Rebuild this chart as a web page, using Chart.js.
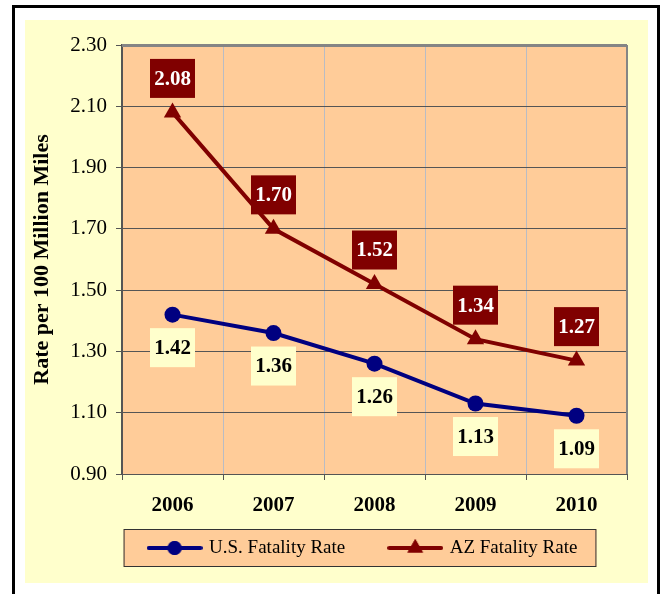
<!DOCTYPE html>
<html>
<head>
<meta charset="utf-8">
<script src="https://cdn.jsdelivr.net/npm/chart.js@4.4.1/dist/chart.umd.min.js"></script>
<style>
    html, body { margin: 0; padding: 0; background: #fff; }
    body { width: 665px; height: 594px; overflow: hidden; position: relative; }
    .frame { position: absolute; left: 12px; top: 5px; width: 642px; height: 640px; border: 3px solid #000; }
    .panel { position: absolute; left: 25px; top: 20px; width: 623px; height: 563px; background: #ffffcc; }
    #chart { position: absolute; left: 25px; top: 20px; }
</style>
</head>
<body>
<div class="frame"></div>
<div class="panel"></div>
<canvas id="chart" width="623" height="574"></canvas>
<script>
    // values
    const years = ['2006', '2007', '2008', '2009', '2010'];
    const usRate = [1.42, 1.36, 1.26, 1.13, 1.09];
    const azRate = [2.08, 1.70, 1.52, 1.34, 1.27];
    const yTicks = [0.90, 1.10, 1.30, 1.50, 1.70, 1.90, 2.10, 2.30];

    const SERIF = '"Liberation Serif", "Times New Roman", serif';
    const US_COLOR = '#000080';
    const AZ_COLOR = '#800000';

    Chart.defaults.font.family = SERIF;
    Chart.defaults.color = '#000';

    // legend sample: line with the marker in the middle
    function legendIcon(color, style) {
        const c = document.createElement('canvas');
        c.width = 56;
        c.height = 22;
        const g = c.getContext('2d');
        g.strokeStyle = color;
        g.fillStyle = color;
        g.lineWidth = 4;
        g.lineCap = 'round';
        g.beginPath();
        g.moveTo(2, 11);
        g.lineTo(54, 11);
        g.stroke();
        Chart.helpers.drawPoint(g, {pointStyle: style, radius: style === 'circle' ? 7 : 9, borderWidth: 0}, 28, 11);
        g.fill();
        return c;
    }

    const icons = [legendIcon(US_COLOR, 'circle'), legendIcon(AZ_COLOR, 'triangle')];

    const plotFrame = {
        id: 'plotFrame',
        // the legend sits a bit right of centre and closer to the axis than the default layout puts it
        afterLayout(chart) {
            const lg = chart.legend;
            lg.left += 37.5;
            lg.right += 37.5;
            lg.top -= 20.5;
            lg.bottom -= 20.5;
        },
        beforeDraw(chart) {
            const {ctx, chartArea: a} = chart;
            ctx.save();
            ctx.fillStyle = '#ffcc99';
            ctx.fillRect(a.left, a.top, a.right - a.left, a.bottom - a.top);

            // legend box
            const hb = chart.legend.legendHitBoxes;
            if (hb && hb.length) {
                const cy = hb[0].top + hb[0].height / 2;
                const left = hb[0].left - 26;
                const right = hb[hb.length - 1].left + hb[hb.length - 1].width + 19;
                ctx.fillStyle = '#ffcc99';
                ctx.fillRect(left, cy - 19, right - left, 38);
                ctx.strokeStyle = '#333';
                ctx.lineWidth = 1;
                ctx.strokeRect(left + 0.5, cy - 18.5, right - left - 1, 37);
            }
            ctx.restore();
        },
        beforeDatasetsDraw(chart) {
            const {ctx, chartArea: a} = chart;
            ctx.save();
            ctx.strokeStyle = '#858585';
            ctx.lineWidth = 3;
            ctx.beginPath();
            ctx.moveTo(a.left, a.top + 0.5);
            ctx.lineTo(a.right, a.top + 0.5);
            ctx.stroke();
            ctx.lineWidth = 2;
            ctx.beginPath();
            ctx.moveTo(a.right, a.top);
            ctx.lineTo(a.right, a.bottom);
            ctx.stroke();
            ctx.restore();
        }
    };

    const valueLabels = {
        id: 'valueLabels',
        afterDatasetsDraw(chart) {
            const ctx = chart.ctx;
            ctx.save();
            ctx.font = 'bold 21px ' + SERIF;
            ctx.textAlign = 'center';
            ctx.textBaseline = 'middle';
            chart.data.datasets.forEach((ds, di) => {
                const above = di === 1;
                chart.getDatasetMeta(di).data.forEach((pt, i) => {
                    const cx = pt.x;
                    const cy = above ? pt.y - 34 : pt.y + 33;
                    ctx.fillStyle = above ? AZ_COLOR : '#ffffcc';
                    ctx.fillRect(cx - 22.5, cy - 19.5, 45, 39);
                    ctx.fillStyle = above ? '#fff' : '#000';
                    ctx.fillText(ds.data[i].toFixed(2), cx, cy + 1);
                });
            });
            ctx.restore();
        }
    };

    new Chart(document.getElementById('chart'), {
        type: 'line',
        data: {
            labels: years,
            datasets: [
                {
                    label: 'U.S. Fatality Rate',
                    data: usRate,
                    borderColor: US_COLOR,
                    backgroundColor: US_COLOR,
                    borderWidth: 4,
                    pointStyle: 'circle',
                    pointRadius: 8,
                    pointBorderWidth: 0,
                    tension: 0
                },
                {
                    label: 'AZ Fatality Rate',
                    data: azRate,
                    borderColor: AZ_COLOR,
                    backgroundColor: AZ_COLOR,
                    borderWidth: 4,
                    pointStyle: 'triangle',
                    pointRadius: 10,
                    pointBorderWidth: 0,
                    tension: 0
                }
            ]
        },
        options: {
            responsive: false,
            animation: false,
            layout: { padding: { left: 0, right: 21, top: 25, bottom: 6 } },
            plugins: {
                tooltip: { enabled: false },
                legend: {
                    position: 'bottom',
                    labels: {
                        usePointStyle: true,
                        pointStyleWidth: 50,
                        padding: 45,
                        color: '#000',
                        font: { family: SERIF, size: 19 },
                        generateLabels: chart => chart.data.datasets.map((ds, i) => ({
                            text: ds.label,
                            pointStyle: icons[i],
                            fillStyle: ds.borderColor,
                            strokeStyle: ds.borderColor,
                            lineWidth: 0,
                            hidden: false,
                            datasetIndex: i
                        }))
                    }
                }
            },
            scales: {
                x: {
                    offset: true,
                    afterFit: s => { s.height = 40; },
                    grid: {
                        offset: true,
                        color: c => (c.index === 0 || c.index === years.length) ? 'rgba(0,0,0,0)' : '#b9bcc4',
                        tickColor: '#555',
                        tickLength: 6
                    },
                    border: { color: '#555', width: 1 },
                    ticks: {
                        padding: 13,
                        color: '#000',
                        font: { family: SERIF, size: 21, weight: 'bold' }
                    }
                },
                y: {
                    min: 0.9,
                    max: 2.3,
                    afterFit: s => { s.width = 97; },
                    afterBuildTicks: s => { s.ticks = yTicks.map(v => ({value: v})); },
                    grid: { color: '#555', tickColor: '#555', tickLength: 6 },
                    border: { color: '#555', width: 2 },
                    ticks: {
                        padding: 9,
                        color: '#000',
                        font: { family: SERIF, size: 21 },
                        callback: v => v.toFixed(2)
                    },
                    title: {
                        display: true,
                        text: 'Rate per 100 Million Miles',
                        color: '#000',
                        padding: { top: 3.8, bottom: 0 },
                        font: { family: SERIF, size: 22, weight: 'bold' }
                    }
                }
            }
        },
        plugins: [plotFrame, valueLabels]
    });
</script>
</body>
</html>
